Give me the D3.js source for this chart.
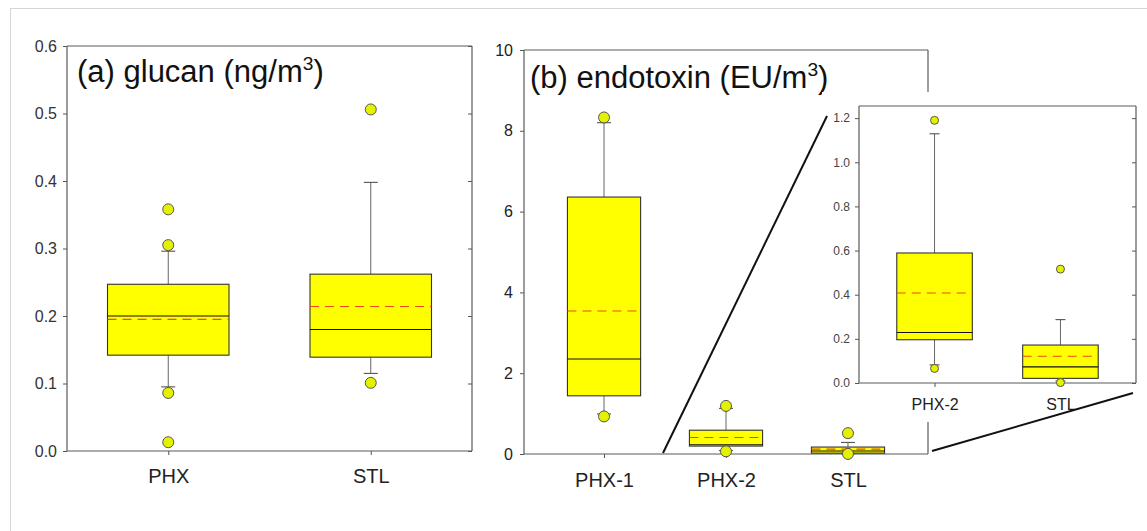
<!DOCTYPE html>
<html>
<head>
<meta charset="utf-8">
<script src="https://cdn.jsdelivr.net/npm/d3@7"></script>
<style>
  html, body { margin: 0; padding: 0; background: #fff; }
  svg { display: block; font-family: "Liberation Sans", Arial, sans-serif; }
</style>
</head>
<body>
<svg id="chart" width="1147" height="531"></svg>
<script>
// ---- (a) glucan, ng/m3 ----
const glucanSites = ["PHX", "STL"];
const glucanWhiskerLow = [0.095, 0.115];
const glucanQ1 = [0.142, 0.139];
const glucanMedian = [0.200, 0.180];
const glucanMean = [0.195, 0.214];
const glucanQ3 = [0.247, 0.262];
const glucanWhiskerHigh = [0.296, 0.398];
const glucanOutliers = [[0.358, 0.305, 0.086, 0.013], [0.506, 0.101]];
const glucanTicks = [0, 0.1, 0.2, 0.3, 0.4, 0.5, 0.6];

// ---- (b) endotoxin, EU/m3 ----
const endoSites = ["PHX-1", "PHX-2", "STL"];
const endoWhiskerLow = [0.99, 0.082, 0.009];
const endoQ1 = [1.44, 0.196, 0.021];
const endoMedian = [2.35, 0.229, 0.073];
const endoMean = [3.54, 0.408, 0.121];
const endoQ3 = [6.36, 0.589, 0.172];
const endoWhiskerHigh = [8.20, 1.129, 0.287];
const endoOutliers = [[8.33, 0.93], [1.19, 0.066], [0.516, 0.002]];
const endoTicks = [0, 2, 4, 6, 8, 10];
const insetTicks = [0, 0.2, 0.4, 0.6, 0.8, 1.0, 1.2];

const svg = d3.select("#chart");

// page frame (top and left edges)
svg.append("line").attr("x1", 10).attr("x2", 1147).attr("y1", 8.5).attr("y2", 8.5)
  .attr("stroke", "#d6d6d6");
svg.append("line").attr("x1", 10.5).attr("x2", 10.5).attr("y1", 8).attr("y2", 531)
  .attr("stroke", "#d6d6d6");

function buildRows(sites, lo, q1, med, mean, q3, hi, out) {
  return sites.map((s, i) => ({
    site: s, lo: lo[i], q1: q1[i], med: med[i], mean: mean[i],
    q3: q3[i], hi: hi[i], out: out[i]
  }));
}

function styleAxis(sel, fontSize, color) {
  sel.select(".domain").remove();
  sel.selectAll(".tick line").attr("stroke", "#555");
  sel.selectAll(".tick text").attr("font-size", fontSize).attr("fill", color)
    .attr("font-family", "Liberation Sans, Arial, sans-serif");
}

// box plot panel with framed axes
function drawPanel(p) {
  const g = svg.append("g");
  const x = d3.scalePoint().domain(p.rows.map(d => d.site))
    .range([p.left, p.right]).padding(p.pad);
  const y = d3.scaleLinear().domain(p.yDomain).range([p.bottom, p.top]);
  const bw = x.step() * 0.6;

  if (p.background) {
    g.append("rect").attr("x", p.background[0]).attr("y", p.background[1])
      .attr("width", p.background[2]).attr("height", p.background[3]).attr("fill", "#fff");
  }

  // left axis
  const ya = g.append("g").attr("transform", `translate(${p.left},0)`)
    .call(d3.axisLeft(y).tickValues(p.ticks).tickFormat(p.fmt).tickSize(p.tickLen).tickPadding(p.tickPad));
  styleAxis(ya, p.tickFont, p.tickColor);
  // right axis, inward ticks
  if (p.rightTicks) {
    const yr = g.append("g").attr("transform", `translate(${p.right},0)`)
      .call(d3.axisLeft(y).tickValues(p.ticks).tickFormat("").tickSize(p.tickLen));
    styleAxis(yr, p.tickFont, p.tickColor);
  }
  // bottom axis
  const xa = g.append("g").attr("transform", `translate(0,${p.bottom})`)
    .call(d3.axisBottom(x).tickSize(p.tickLen).tickPadding(p.xPad));
  styleAxis(xa, p.xFont, "#222");

  // frame
  const frame = g.append("g").attr("stroke", "#5a5a5a").attr("stroke-width", 1.2).attr("fill", "none");
  ["top", "right", "bottom", "left"].forEach(e => {
    const seg = {
      top: [p.left, p.top, p.right, p.top],
      bottom: [p.left, p.bottom, p.right, p.bottom],
      left: [p.left, p.top, p.left, p.bottom],
      right: [p.right, p.top, p.right, p.bottom]
    }[e];
    frame.append("line").attr("x1", seg[0]).attr("y1", seg[1]).attr("x2", seg[2]).attr("y2", seg[3]);
  });

  const box = g.selectAll(".box").data(p.rows).join("g").attr("class", "box");
  // whiskers
  box.append("line").attr("x1", d => x(d.site)).attr("x2", d => x(d.site))
    .attr("y1", d => y(d.q3)).attr("y2", d => y(d.hi)).attr("stroke", "#666");
  box.append("line").attr("x1", d => x(d.site)).attr("x2", d => x(d.site))
    .attr("y1", d => y(d.q1)).attr("y2", d => y(d.lo)).attr("stroke", "#666");
  box.append("line").attr("x1", d => x(d.site) - p.cap / 2).attr("x2", d => x(d.site) + p.cap / 2)
    .attr("y1", d => y(d.hi)).attr("y2", d => y(d.hi)).attr("stroke", "#444");
  box.append("line").attr("x1", d => x(d.site) - p.cap / 2).attr("x2", d => x(d.site) + p.cap / 2)
    .attr("y1", d => y(d.lo)).attr("y2", d => y(d.lo)).attr("stroke", "#444");
  // box
  box.append("rect").attr("x", d => x(d.site) - bw / 2).attr("width", bw)
    .attr("y", d => y(d.q3)).attr("height", d => y(d.q1) - y(d.q3))
    .attr("fill", "#ffff00").attr("stroke", "#333").attr("stroke-width", 1.1);
  // median
  box.append("line").attr("x1", d => x(d.site) - bw / 2).attr("x2", d => x(d.site) + bw / 2)
    .attr("y1", d => y(d.med)).attr("y2", d => y(d.med)).attr("stroke", "#111").attr("stroke-width", 1.1);
  // mean
  box.append("line").attr("x1", d => x(d.site) - bw / 2).attr("x2", d => x(d.site) + bw / 2)
    .attr("y1", d => y(d.mean)).attr("y2", d => y(d.mean))
    .attr("stroke", "#f04a10").attr("stroke-width", 1.1).attr("stroke-dasharray", "9,6");
  // outliers
  box.selectAll("circle").data(d => d.out.map(v => ({ site: d.site, v }))).join("circle")
    .attr("cx", d => x(d.site)).attr("cy", d => y(d.v)).attr("r", p.r)
    .attr("fill", "#e4f200").attr("stroke", "#555").attr("stroke-width", 1);

  return { g, x, y };
}

function addTitle(g, xPos, yPos, label, unit, size) {
  const t = g.append("text").attr("x", xPos).attr("y", yPos)
    .attr("font-size", size).attr("fill", "#111");
  t.append("tspan").text(label + " (" + unit);
  t.append("tspan").text("3").attr("font-size", size * 0.62).attr("dy", -size * 0.38);
  t.append("tspan").text(")").attr("dy", size * 0.38);
}

// ---- panel (a) ----
const pa = drawPanel({
  rows: buildRows(glucanSites, glucanWhiskerLow, glucanQ1, glucanMedian, glucanMean, glucanQ3, glucanWhiskerHigh, glucanOutliers),
  left: 67, right: 472, top: 46, bottom: 451, pad: 0.5,
  yDomain: [0, 0.6], ticks: glucanTicks, fmt: d3.format(".1f"),
  tickLen: 4, tickPad: 6, tickFont: 16, tickColor: "#333",
  xFont: 20, xPad: 14, rightTicks: true, cap: 14, r: 5.5
});
addTitle(pa.g, 77, 82, "(a) glucan", "ng/m", 31);

// ---- panel (b) ----
const pb = drawPanel({
  rows: buildRows(endoSites, endoWhiskerLow, endoQ1, endoMedian, endoMean, endoQ3, endoWhiskerHigh, endoOutliers),
  left: 524, right: 928, top: 50, bottom: 454, pad: 0.656,
  yDomain: [0, 10], ticks: endoTicks, fmt: d3.format("d"),
  tickLen: 4, tickPad: 7, tickFont: 16, tickColor: "#222",
  xFont: 20, xPad: 15, rightTicks: false, cap: 14, r: 5.5
});
addTitle(pb.g, 530, 88, "(b) endotoxin", "EU/m", 31);

// ---- inset: PHX-2 and STL on an expanded scale ----
const insetRows = buildRows(endoSites, endoWhiskerLow, endoQ1, endoMedian, endoMean, endoQ3, endoWhiskerHigh, endoOutliers).slice(1);
const pi = drawPanel({
  rows: insetRows,
  left: 859, right: 1136, top: 106, bottom: 383, pad: 0.6,
  yDomain: [0, 1.255], ticks: insetTicks, fmt: d3.format(".1f"),
  tickLen: 4, tickPad: 5, tickFont: 12, tickColor: "#444",
  xFont: 16, xPad: 12, rightTicks: true, cap: 10, r: 4,
  background: [822, 92, 325, 330]
});

// leader lines from the main panel to the inset
const leaders = svg.append("g").attr("stroke", "#111").attr("stroke-width", 2);
leaders.append("line").attr("x1", 663).attr("y1", 453).attr("x2", 827).attr("y2", 116);
leaders.append("line").attr("x1", 932).attr("y1", 451).attr("x2", 1133).attr("y2", 393);
</script>
</body>
</html>
